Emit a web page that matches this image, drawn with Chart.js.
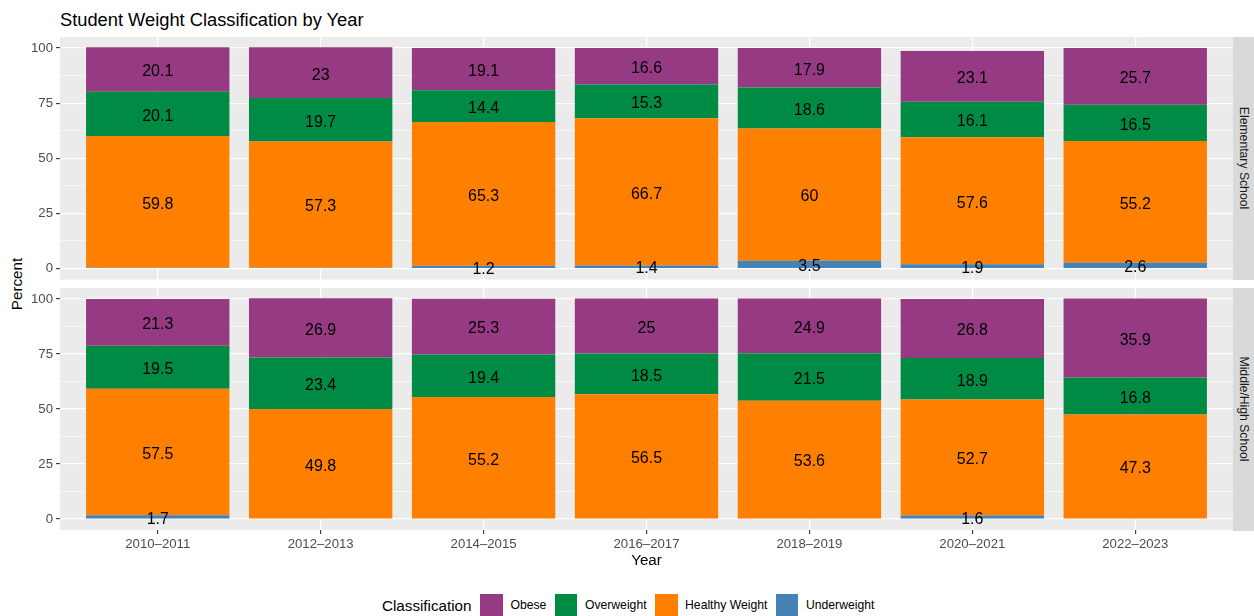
<!DOCTYPE html>
<html>
<head>
<meta charset="utf-8">
<script src="https://cdn.jsdelivr.net/npm/chart.js@4.4.1/dist/chart.umd.min.js"></script>
<style>
  body { margin: 0; background: #fff; width: 1254px; height: 616px; overflow: hidden; position: relative;
         font-family: "Liberation Sans", Arial, sans-serif; }
  canvas { position: absolute; left: 0; }
  #topChart { top: 0; }
  #bottomChart { top: 280px; }
  .title { position: absolute; left: 60px; top: 10.5px; font-size: 18.3px; line-height: 1; white-space: nowrap; color: #000; }
  .ytitle { position: absolute; left: 17px; top: 284px; font-size: 15.2px; line-height: 1; white-space: nowrap;
            transform: translate(-50%, -50%) rotate(-90deg); color: #000; }
  .strip { position: absolute; left: 1233px; width: 21px; height: 242.5px; background: #d9d9d9; }
  .strip span { position: absolute; left: 50%; top: 50%; transform: translate(-50%, -50%) rotate(90deg);
                white-space: nowrap; font-size: 12.2px; line-height: 1; color: #1a1a1a; }
  #legend { position: absolute; left: 382px; top: 594px; height: 22.5px; display: flex; align-items: center; white-space: nowrap; }
  #legend .ltitle { font-size: 15.2px; margin-right: 9px; color: #000; }
  #legend .key { width: 22.5px; height: 22.5px; margin-right: 7.5px; }
  #legend .lab { font-size: 12.2px; margin-right: 8.5px; color: #000; }
</style>
</head>
<body>
<div class="title">Student Weight Classification by Year</div>
<div class="ytitle">Percent</div>
<canvas id="topChart" width="1233" height="280"></canvas>
<canvas id="bottomChart" width="1233" height="290"></canvas>
<div class="strip" style="top:37px"><span>Elementary School</span></div>
<div class="strip" style="top:288px"><span>Middle/High School</span></div>
<div id="legend"><span class="ltitle">Classification</span></div>

<script>
// data
const years = ['2010–2011', '2012–2013', '2014–2015', '2016–2017', '2018–2019', '2020–2021', '2022–2023'];
const yTicks = [0, 12.5, 25, 37.5, 50, 62.5, 75, 87.5, 100];

const elemUnder   = [0.3, 0.3, 1.2, 1.4, 3.5, 1.9, 2.6];
const elemHealthy = [59.8, 57.3, 65.3, 66.7, 60, 57.6, 55.2];
const elemOver    = [20.1, 19.7, 14.4, 15.3, 18.6, 16.1, 16.5];
const elemObese   = [20.1, 23, 19.1, 16.6, 17.9, 23.1, 25.7];

const highUnder   = [1.7, 0.2, 0.2, 0.2, 0.2, 1.6, 0.2];
const highHealthy = [57.5, 49.8, 55.2, 56.5, 53.6, 52.7, 47.3];
const highOver    = [19.5, 23.4, 19.4, 18.5, 21.5, 18.9, 16.8];
const highObese   = [21.3, 26.9, 25.3, 25, 24.9, 26.8, 35.9];

const classes = ['Obese', 'Overweight', 'Healthy Weight', 'Underweight'];
const colors = { 'Obese': '#963A84', 'Overweight': '#008B45', 'Healthy Weight': '#FF7F00', 'Underweight': '#4682B4' };

const family = '"Liberation Sans", Arial, sans-serif';

// grey panel behind the bars
const panelBg = {
  id: 'panelBg',
  beforeDraw(chart) {
    const { ctx, chartArea: a } = chart;
    ctx.save();
    ctx.fillStyle = '#ebebeb';
    ctx.fillRect(a.left, a.top, a.right - a.left, a.bottom - a.top);
    ctx.restore();
  }
};

// value in the middle of each segment
const segmentLabels = {
  id: 'segmentLabels',
  afterDatasetsDraw(chart) {
    const ctx = chart.ctx;
    ctx.save();
    ctx.font = '16px ' + family;
    ctx.fillStyle = '#000';
    ctx.textAlign = 'center';
    ctx.textBaseline = 'alphabetic';
    chart.data.datasets.forEach((ds, i) => {
      chart.getDatasetMeta(i).data.forEach((bar, j) => {
        const v = ds.data[j].y;
        if (v < 1) return;
        const p = bar.getProps(['x', 'y', 'base'], true);
        ctx.fillText(String(v), p.x, (p.y + p.base) / 2 + 6.8);
      });
    });
    ctx.restore();
  }
};

function points(arr) {
  return arr.map((v, i) => ({ x: i, y: v }));
}

function makeChart(id, under, healthy, over, obese, showX, padTop, padBottom) {
  const series = { 'Underweight': under, 'Healthy Weight': healthy, 'Overweight': over, 'Obese': obese };
  const order = ['Underweight', 'Healthy Weight', 'Overweight', 'Obese'];
  return new Chart(document.getElementById(id), {
    type: 'bar',
    data: {
      datasets: order.map(name => ({
        label: name,
        data: points(series[name]),
        backgroundColor: colors[name],
        borderWidth: 0,
        categoryPercentage: 1,
        barPercentage: 0.88
      }))
    },
    options: {
      responsive: false,
      animation: false,
      devicePixelRatio: 1,
      layout: { padding: { top: padTop, bottom: padBottom, left: 0, right: 0 } },
      plugins: { legend: { display: false }, tooltip: { enabled: false } },
      scales: {
        x: {
          type: 'linear',
          min: -0.6,
          max: 6.6,
          offset: false,
          stacked: true,
          afterBuildTicks: s => { s.ticks = years.map((_, i) => ({ value: i })); },
          afterFit: s => { s.height = showX ? 40 : 0; s.paddingLeft = 0; s.paddingRight = 0; },
          ticks: {
            display: showX,
            autoSkip: false,
            maxRotation: 0,
            padding: 2,
            color: '#4d4d4d',
            font: { size: 13.2, family: family },
            callback: v => years[v]
          },
          grid: { offset: false, color: '#fff', lineWidth: 1.2, drawTicks: showX, tickLength: 4, tickColor: '#333', tickWidth: 1.1 },
          border: { display: false },
          title: { display: showX, text: 'Year', color: '#000', font: { size: 15.2, family: family }, padding: 0 }
        },
        y: {
          min: -5,
          max: 105,
          stacked: true,
          afterBuildTicks: s => { s.ticks = yTicks.map(v => ({ value: v })); },
          afterFit: s => { s.width = 60; s.paddingTop = 0; s.paddingBottom = 0; },
          ticks: {
            padding: 3,
            color: '#4d4d4d',
            font: { size: 13.2, family: family },
            callback: v => (v % 25 === 0 ? String(v) : '')
          },
          grid: {
            color: '#fff',
            lineWidth: c => (c.tick && c.tick.value % 25 === 0 ? 1.2 : 0.6),
            tickLength: 4,
            tickColor: c => (c.tick && c.tick.value % 25 === 0 ? '#333' : 'rgba(0,0,0,0)'),
            tickWidth: 1.1
          },
          border: { display: false }
        }
      }
    },
    plugins: [panelBg, segmentLabels]
  });
}

makeChart('topChart', elemUnder, elemHealthy, elemOver, elemObese, false, 37, 0.5);
makeChart('bottomChart', highUnder, highHealthy, highOver, highObese, true, 8, 0);

// legend
const legend = document.getElementById('legend');
classes.forEach(name => {
  const key = document.createElement('span');
  key.className = 'key';
  key.style.background = colors[name];
  const lab = document.createElement('span');
  lab.className = 'lab';
  lab.textContent = name;
  legend.appendChild(key);
  legend.appendChild(lab);
});
</script>
</body>
</html>
